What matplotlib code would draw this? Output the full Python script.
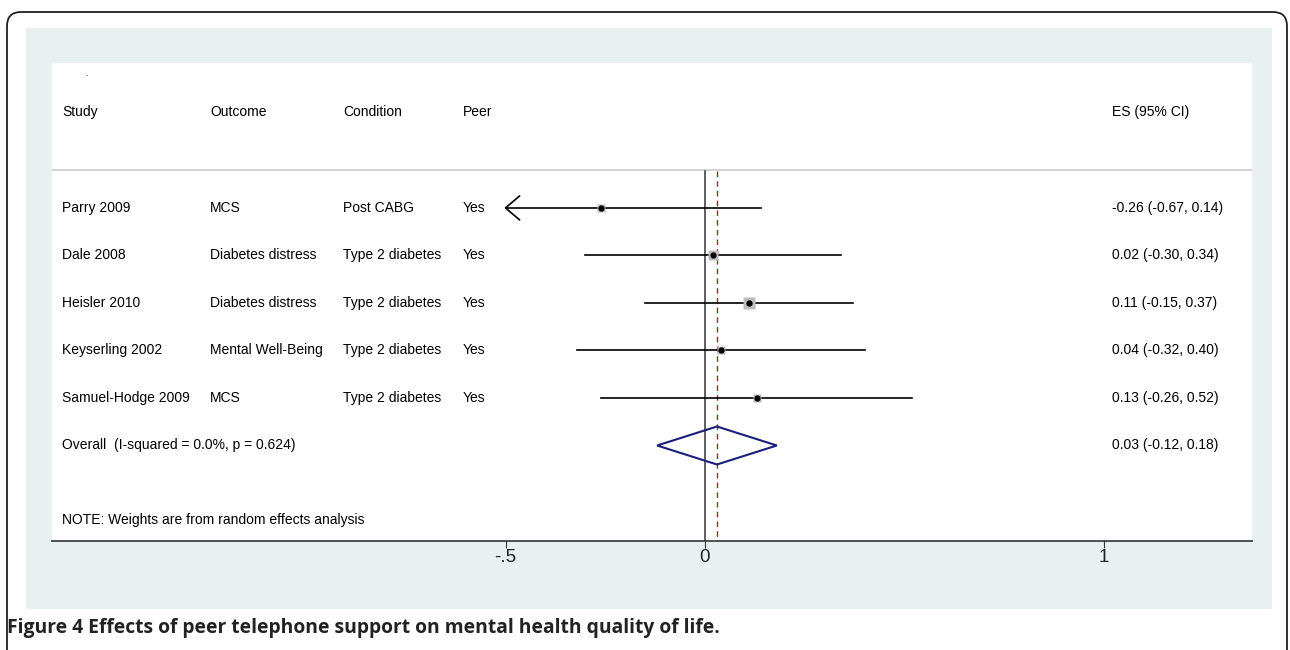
import matplotlib.pyplot as plt
from matplotlib.patches import FancyBboxPatch, Rectangle, Polygon
from matplotlib.transforms import blended_transform_factory, IdentityTransform

plt.rcParams['font.family'] = ['Liberation Sans', 'DejaVu Sans']

# data
headers = ["Study", "Outcome", "Condition", "Peer"]
studies = ["Parry 2009", "Dale 2008", "Heisler 2010", "Keyserling 2002", "Samuel-Hodge 2009"]
outcomes = ["MCS", "Diabetes distress", "Diabetes distress", "Mental Well-Being", "MCS"]
conditions = ["Post CABG", "Type 2 diabetes", "Type 2 diabetes", "Type 2 diabetes", "Type 2 diabetes"]
peer = ["Yes", "Yes", "Yes", "Yes", "Yes"]
es = [-0.26, 0.02, 0.11, 0.04, 0.13]
lo = [-0.67, -0.30, -0.15, -0.32, -0.26]
hi = [0.14, 0.34, 0.37, 0.40, 0.52]
weights = [13.5, 21.7, 33.0, 17.2, 14.6]  # estimated from square size
overall_es, overall_lo, overall_hi = 0.03, -0.12, 0.18
overall_label = "Overall  (I-squared = 0.0%, p = 0.624)"
note = "NOTE: Weights are from random effects analysis"
xticks = [-0.5, 0, 1]
xticklabels = ["-.5", "0", "1"]
clip_lo = -0.5
caption = "Figure 4 Effects of peer telephone support on mental health quality of life."

W, H = 1290, 650
fig = plt.figure(figsize=(W / 100, H / 100), dpi=100)
fig.patch.set_facecolor('white')

# outer rounded frame and pale panel (display pixels)
frame = FancyBboxPatch((7, -30), 1280, 638 + 30, boxstyle="round,pad=0,rounding_size=14",
                       transform=IdentityTransform(), fc='white', ec='#222222', lw=1.3, zorder=-3)
fig.patches.append(frame)
panel = Rectangle((26, H - 609), 1272 - 26, 609 - 28, transform=IdentityTransform(),
                  fc='#e8f0f2', ec='none', zorder=-2)
fig.patches.append(panel)

# plot area
left, right, top, bottom = 52, 1252, 63, 541
ax = fig.add_axes([left / W, (H - bottom) / H, (right - left) / W, (bottom - top) / H])
ax.set_facecolor('white')
x0px, scale = 705, 399
ax.set_xlim((left - x0px) / scale, (right - x0px) / scale)
ax.set_ylim(7.01, -3.05)
for s in ['top', 'left', 'right']:
    ax.spines[s].set_visible(False)
ax.spines['bottom'].set_color('#333333')
ax.spines['bottom'].set_linewidth(1.2)
ax.set_yticks([])
ax.set_xticks(xticks)
ax.set_xticklabels(xticklabels, fontsize=13.5, color='#222222')
ax.tick_params(axis='x', length=5, width=0.8, color='#333333', pad=1)

tr = blended_transform_factory(ax.transAxes, ax.transData)
colx = [0.0083, 0.1317, 0.2425, 0.3425]
esx = 0.8833
fs = 10

ax.text(0.028, -2.85, ".", transform=tr, fontsize=7, ha='left', va='center')
for cx, h in zip(colx, headers):
    ax.text(cx, -2.02, h, transform=tr, fontsize=fs, va='center')
ax.text(esx, -2.02, "ES (95% CI)", transform=tr, fontsize=fs, va='center')
ax.axhline(-0.8, color='#cccccc', lw=1.2)

# reference lines
ax.plot([0, 0], [-0.78, 7.01], color='#444444', lw=1.2, zorder=2)
ax.plot([overall_es, overall_es], [-0.78, 7.01], color='#b0202a', lw=1.0, ls=(0, (4, 3)), zorder=2)

for i in range(len(studies)):
    y = i
    for cx, t in zip(colx, [studies[i], outcomes[i], conditions[i], peer[i]]):
        ax.text(cx, y, t, transform=tr, fontsize=fs, va='center')
    ax.text(esx, y, f"{es[i]:.2f} ({lo[i]:.2f}, {hi[i]:.2f})", transform=tr, fontsize=fs, va='center')
    a = max(lo[i], clip_lo)
    ax.plot([a, hi[i]], [y, y], color='black', lw=1.2, zorder=3)
    if lo[i] < clip_lo:
        ax.plot([a + 0.035, a, a + 0.035], [y - 0.25, y, y + 0.25], color='black', lw=1.2, zorder=3)
    side = 1.45 * weights[i] ** 0.5
    ax.plot(es[i], y, marker='s', ms=side, color='#bcbcbc', mec='none', zorder=4)
    ax.plot(es[i], y, marker='o', ms=3.5, color='black', zorder=5)

yo = len(studies)
ax.text(colx[0], yo, overall_label, transform=tr, fontsize=fs, va='center')
ax.text(esx, yo, f"{overall_es:.2f} ({overall_lo:.2f}, {overall_hi:.2f})", transform=tr, fontsize=fs, va='center')
dia = Polygon([[overall_lo, yo], [overall_es, yo - 0.4], [overall_hi, yo], [overall_es, yo + 0.4]],
              closed=True, fc='none', ec='#1a1f7a', lw=1.5, zorder=4)
ax.add_patch(dia)
ax.text(colx[0], 6.57, note, transform=tr, fontsize=fs, va='center')

fig.text(7 / W, 1 - 628 / H, caption, fontsize=13.9, fontweight='bold', family=['Open Sans', 'DejaVu Sans'],
         va='center', ha='left', color='#222222')

fig.savefig('out.png', dpi=100)
